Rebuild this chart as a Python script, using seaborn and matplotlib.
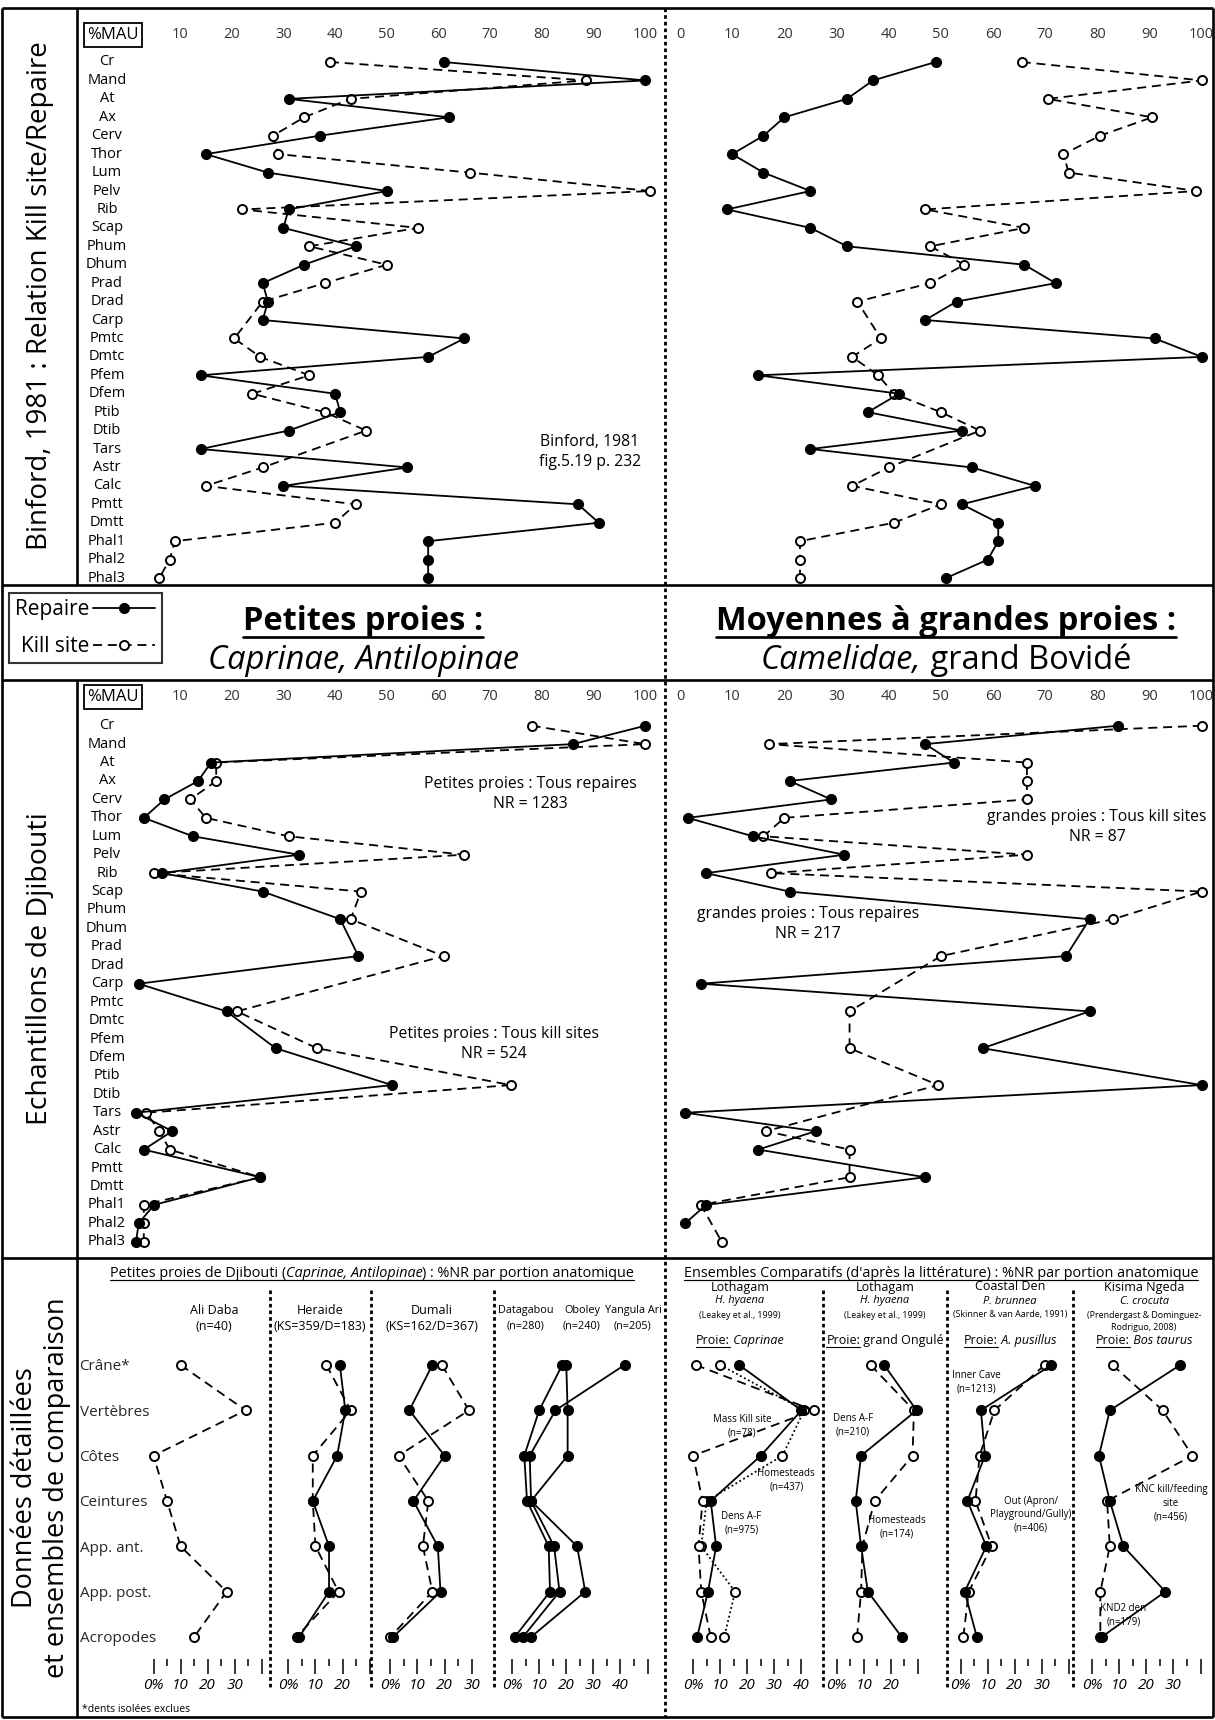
import numpy as np
import pandas as pd
import seaborn as sns
import matplotlib.pyplot as plt
from matplotlib.lines import Line2D

W, H = 1215, 1720
nan = np.nan

# --- DONNEES : Binford 1981 (%MAU) ---
elements = ["Cr", "Mand", "At", "Ax", "Cerv", "Thor", "Lum", "Pelv", "Rib", "Scap",
            "Phum", "Dhum", "Prad", "Drad", "Carp", "Pmtc", "Dmtc", "Pfem", "Dfem",
            "Ptib", "Dtib", "Tars", "Astr", "Calc", "Pmtt", "Dmtt", "Phal1", "Phal2", "Phal3"]
binford_petit_repaire = [61, 100, 31, 62, 37, 15, 27, 50, 31, 30, 44, 34, 26, 27, 26, 65, 58,
                         14, 40, 41, 31, 14, 54, 30, 87, 91, 58, 58, 58]
binford_petit_kill = [39, 88.5, 43, 34, 28, 29, 66, 101, 22, 56, 35, 50, 38, 26, nan, 20.5, 25.5,
                      35, 24, 38, 46, nan, 26, 15, 44, 40, 9, 8, 6]
binford_grand_repaire = [49, 37, 32, 20, 16, 10, 16, 25, 9, 25, 32, 66, 72, 53, 47, 91, 100,
                         15, 42, 36, 54, 25, 56, 68, 54, 61, 61, 59, 51]
binford_grand_kill = [65.5, 100, 70.5, 90.5, 80.5, 73.5, 74.5, 99, 47, 66, 48, 54.5, 48, 34, nan,
                      38.5, 33, 38, 41, 50, 57.5, nan, 40, 33, 50, 41, 23, 23, 23]

# --- DONNEES : Djibouti (%MAU), os longs regroupes entre proximal et distal ---
djib_elements = ["Cr", "Mand", "At", "Ax", "Cerv", "Thor", "Lum", "Pelv", "Rib", "Scap",
                 "Phum/Dhum", "Prad/Drad", "Carp", "Pmtc/Dmtc", "Pfem/Dfem", "Ptib/Dtib",
                 "Tars", "Astr", "Calc", "Pmtt/Dmtt", "Phal1", "Phal2", "Phal3"]
djib_petit_repaire = [100, 86, 16, 13.5, 7, 3, 12.5, 33, 6.5, 26, 41, 44.5, 2, 19, 28.5, 51,
                      1.5, 8.5, 3, 25.5, 5, 2, 1.5]
djib_petit_kill = [78, 100, 17, 17, 12, 15, 31, 65, 5, 45, 43, 61, nan, 21, 36.5, 74,
                   3.5, 6, 8, 25.5, 3, 3, 3]
djib_grand_repaire = [84, 47, 52.5, 21, 29, 1.5, 14, 31.5, 5, 21, 78.5, 74, 4, 78.5, 58, 100,
                      1, 26, 15, 47, 5, 1, nan]
djib_grand_kill = [100, 17, 66.5, 66.5, 66.5, 20, 16, 66.5, 17.5, 100, 83, 50, nan, 32.5, 32.5,
                   49.5, nan, 16.5, 32.5, 32.5, 4, nan, 8]

# --- DONNEES : %NR par portion anatomique ---
portions = ["Crâne*", "Vertèbres", "Côtes", "Ceintures", "App. ant.", "App. post.", "Acropodes"]
ali_daba = [10, 34, 0, 5, 10, 27, 15]
heraide_d = [19, 21, 18, 9, 15, 15, 4]
heraide_ks = [14, 23, 9, 9, 10, 18.5, 3]
dumali_d = [15.5, 7, 20, 8.5, 17.5, 18.5, 1]
dumali_ks = [19, 29, 3, 14, 12, 15.5, 0]
datagabou = [18.5, 10, 4.5, 5.5, 13.5, 14, 1]
oboley = [20, 20.5, 20.5, 7, 15.5, 17.5, 4]
yangula_ari = [41.5, 16, 6.5, 7, 24, 27, 7]
lothagam_dens = [17, 40, 25, 6.5, 8.5, 5.5, 1.5]
lothagam_mass = [1, 44.5, 0, 3.5, 2, 3, 6.5]
lothagam_home = [10, 41, 33, 5, 3, 15.5, 11.5]
lothagam2_dens = [17.5, 29.5, 9, 7, 9, 11.5, 24]
lothagam2_home = [12.5, 28.5, 28, 14, 9.5, 9, 7.5]
coastal_inner = [33.5, 7.5, 9, 2.5, 9.5, 1.5, 6]
coastal_out = [31, 12.5, 7, 5.5, 11.5, 3, 1]
kisima_knd2 = [32.5, 6.5, 2.5, 6.5, 11.5, 27, 3.5]
kisima_knc = [7.5, 26, 37, 5.5, 6.5, 3, 3]

# --- STYLE ---
sns.set_theme(style="white", rc={"text.color": "black", "xtick.color": "black",
                                 "axes.labelcolor": "black"})
plt.rcParams["font.family"] = ["Open Sans", "DejaVu Sans"]

STYLE = {
    "repaire": dict(color="black", linewidth=1.3, linestyle="-", marker="o", markersize=7,
                    markerfacecolor="black", markeredgecolor="black", markeredgewidth=1),
    "kill": dict(color="black", linewidth=1.3, linestyle=(0, (5, 3.2)), marker="o",
                 markersize=6.5, markerfacecolor="white", markeredgecolor="black",
                 markeredgewidth=1.4),
    "dot": dict(color="black", linewidth=1.3, linestyle=(0, (1, 1.5)), marker="o",
                markersize=6.5, markerfacecolor="white", markeredgecolor="black",
                markeredgewidth=1.4),
}

fig = plt.figure(figsize=(W / 100, H / 100), dpi=100)
bg = fig.add_axes([0, 0, 1, 1])
bg.set_xlim(0, W)
bg.set_ylim(H, 0)
bg.axis("off")


def rect(x0, y0, x1, y1):
    return [x0 / W, 1 - y1 / H, (x1 - x0) / W, (y1 - y0) / H]


def trace(ax, vals, pos, style):
    d = pd.DataFrame({"val": vals, "pos": pos}).dropna()
    sns.lineplot(data=d, x="val", y="pos", sort=False, estimator=None, ax=ax,
                 legend=False, **STYLE[style])
    ax.set_xlabel("")
    ax.set_ylabel("")


def profile(box, zero, step, row0, rowstep, tick_px, ticks, labels):
    x0, y0, x1, y1 = box
    ax = fig.add_axes(rect(*box))
    ax.patch.set_alpha(0)
    ax.axis("off")
    ax.set_xlim((x0 - zero) / step, (x1 - zero) / step)
    ax.set_ylim((y1 - row0) / rowstep, (y0 - row0) / rowstep)
    trow = (tick_px - row0) / rowstep
    for v in ticks:
        ax.text(v, trow, str(v), ha="center", va="center", size=10.5, color="#333333")
    if labels:
        lx = (107 - zero) / step
        for i, e in enumerate(elements):
            ax.text(lx, i, e, ha="center", va="center", size=10.5)
        ax.text((113 - zero) / step, trow, "%MAU", ha="center", va="center", size=12,
                bbox=dict(boxstyle="square,pad=0.22", fc="white", ec="black", lw=1.3))
    return ax


rows = list(range(len(elements)))
djib_pos = [np.mean([elements.index(p) for p in n.split("/")]) for n in djib_elements]

# Binford 1981
ax = profile((78, 8, 665, 585), 128.3, 5.17, 62, 18.43, 35, range(10, 101, 10), True)
trace(ax, binford_petit_kill, rows, "kill")
trace(ax, binford_petit_repaire, rows, "repaire")
ax = profile((665, 8, 1213, 585), 680, 5.217, 62, 18.43, 35, range(0, 101, 10), False)
trace(ax, binford_grand_kill, rows, "kill")
trace(ax, binford_grand_repaire, rows, "repaire")

# Djibouti
ax = profile((78, 680, 665, 1258), 128.3, 5.17, 725.7, 18.43, 697, range(10, 101, 10), True)
trace(ax, djib_petit_kill, djib_pos, "kill")
trace(ax, djib_petit_repaire, djib_pos, "repaire")
ax = profile((665, 680, 1213, 1258), 680, 5.217, 725.7, 18.43, 697, range(0, 101, 10), False)
trace(ax, djib_grand_kill, djib_pos, "kill")
trace(ax, djib_grand_repaire, djib_pos, "repaire")

# --- %NR par portion ---
STEP_B = 2.709
ROW0_B, ROWSTEP_B = 1365, 45.33
BOT_B = 1659


def portion_axes(x0, x1, zero, tick_max, label_max):
    ax = fig.add_axes(rect(x0, 1300, x1, BOT_B))
    ax.set_facecolor("none")
    for s in ax.spines.values():
        s.set_visible(False)
    ax.set_xlim((x0 - zero) / STEP_B, (x1 - zero) / STEP_B)
    ax.set_ylim((BOT_B - ROW0_B) / ROWSTEP_B, (1300 - ROW0_B) / ROWSTEP_B)
    major = list(range(0, tick_max + 1, 10))
    ax.set_xticks(major, ["0%" if v == 0 else (str(v) if v <= label_max else "") for v in major])
    ax.set_xticks(list(range(5, tick_max, 10)), minor=True)
    ax.tick_params(axis="x", which="major", bottom=True, direction="out", length=11,
                   width=1.1, pad=3, labelsize=11)
    ax.tick_params(axis="x", which="minor", bottom=True, direction="out", length=5, width=1.1)
    for lab in ax.get_xticklabels():
        lab.set_style("italic")
    ax.set_yticks([])
    return ax


A = dict(ha="center", va="center", size=7, linespacing=1.3)
prow = list(range(len(portions)))
ax1 = portion_axes(142, 269, 153.5, 40, 30)
trace(ax1, ali_daba, prow, "kill")
ax1.set_yticks(prow, portions)
ax1.tick_params(axis="y", left=False, pad=39, labelsize=11)
for lab in ax1.get_yticklabels():
    lab.set_ha("left")

ax = portion_axes(271, 370, 288.4, 30, 20)
trace(ax, heraide_ks, prow, "kill")
trace(ax, heraide_d, prow, "repaire")
ax = portion_axes(372, 493, 390.4, 30, 30)
trace(ax, dumali_ks, prow, "kill")
trace(ax, dumali_d, prow, "repaire")
ax = portion_axes(495, 664, 512.1, 50, 40)
for serie in (datagabou, oboley, yangula_ari):
    trace(ax, serie, prow, "repaire")

ax = portion_axes(667, 822, 693.1, 40, 40)
trace(ax, lothagam_home, prow, "dot")
trace(ax, lothagam_mass, prow, "kill")
trace(ax, lothagam_dens, prow, "repaire")
ax.text(18, 1.35, "Mass Kill site\n(n=78)", **A)
ax.text(34.4, 2.55, "Homesteads\n(n=437)", **A)
ax.text(17.8, 3.5, "Dens A-F\n(n=975)", **A)

ax = portion_axes(824, 946, 836.7, 30, 20)
trace(ax, lothagam2_home, prow, "kill")
trace(ax, lothagam2_dens, prow, "repaire")
ax.text(6, 1.32, "Dens A-F\n(n=210)", **A)
ax.text(22.3, 3.58, "Homesteads\n(n=174)", **A)

ax = portion_axes(948, 1072, 960.6, 40, 30)
trace(ax, coastal_out, prow, "kill")
trace(ax, coastal_inner, prow, "repaire")
ax.text(5.8, 0.39, "Inner Cave\n(n=1213)", **A)
ax.text(25.9, 3.3, "Out (Apron/\nPlayground/Gully)\n(n=406)", **A)

ax = portion_axes(1074, 1212, 1092.2, 40, 30)
trace(ax, kisima_knc, prow, "kill")
trace(ax, kisima_knd2, prow, "repaire")
ax.text(29.1, 3.05, "KNC kill/feeding\nsite\n(n=456)", **A)
ax.text(11.5, 5.53, "KND2 den\n(n=179)", **A)

# --- cadres ---
K = dict(color="black", lw=1.9, solid_capstyle="butt")
for y in (8, 585, 680, 1258, 1717):
    bg.plot([2, 1213], [y, y], **K)
bg.plot([2, 2], [8, 1717], **K)
bg.plot([1213, 1213], [8, 1717], **K)
bg.plot([77, 77], [8, 585], **K)
bg.plot([77, 77], [680, 1717], **K)
DOT = dict(color="black", lw=2, linestyle=(0, (1.3, 1.1)))
bg.plot([665, 665], [8, 1717], **DOT)
for x in (270, 371, 494, 823, 947, 1073):
    bg.plot([x, x], [1290, 1690], **DOT)

# --- textes ---
bg.text(40, 296, "Binford, 1981 : Relation Kill site/Repaire", rotation=90, ha="center",
        va="center", size=20)
bg.text(40, 969, "Echantillons de Djibouti", rotation=90, ha="center", va="center", size=20.5)
bg.text(41, 1488, "Données détaillées\net ensembles de comparaison", rotation=90, ha="center",
        va="center", size=19.5, multialignment="center", linespacing=1.2)

NOTE = dict(ha="center", va="center", size=11.3, linespacing=1.4)
bg.text(590, 452, "Binford, 1981\nfig.5.19 p. 232", **NOTE)
bg.text(530, 794, "Petites proies : Tous repaires\nNR = 1283", **NOTE)
bg.text(494, 1044, "Petites proies : Tous kill sites\nNR = 524", **NOTE)
bg.text(1097, 827, "grandes proies : Tous kill sites\nNR = 87", **NOTE)
bg.text(808, 924, "grandes proies : Tous repaires\nNR = 217", **NOTE)

renderer = fig.canvas.get_renderer()


def rich(x, y, parts, size):
    arts = []
    for s, kw, ul in parts:
        arts.append(bg.text(0, y, s, size=size, va="baseline", ha="left", **kw))
    ws = [a.get_window_extent(renderer).width for a in arts]
    start = x - sum(ws) / 2
    for a, w, (s, kw, ul) in zip(arts, ws, parts):
        a.set_x(start)
        if ul:
            bg.plot([start, start + w], [y + size * 0.28, y + size * 0.28], color="black",
                    lw=max(0.8, size / 12))
        start += w


N, I, B = {}, {"style": "italic"}, {"weight": "bold"}
rich(363, 630, [("Petites proies :", B, True)], 23.5)
rich(363, 669, [("Caprinae, Antilopinae", I, False)], 23.5)
rich(946, 630, [("Moyennes à grandes proies :", B, True)], 23.5)
rich(946, 669, [("Camelidae,", I, False), (" grand Bovidé", N, False)], 23.5)

leg = fig.legend(
    handles=[Line2D([], [], **STYLE["repaire"]), Line2D([], [], **STYLE["kill"])],
    labels=["Repaire", "Kill site"], loc="upper left",
    bbox_to_anchor=(9 / W, 1 - 593 / H), frameon=True, fancybox=False, edgecolor="black",
    markerfirst=False, handlelength=3.0, fontsize=15, borderpad=0.3, labelspacing=0.75,
    handletextpad=0.15, borderaxespad=0, numpoints=1)
leg.get_frame().set_linewidth(1.5)

rich(372, 1277, [("Petites proies de Djibouti (", N, True), ("Caprinae, Antilopinae", I, True),
                 (") : %NR par portion anatomique", N, True)], 10.4)
rich(941, 1277, [("Ensembles Comparatifs (d'après la littérature) : %NR par portion anatomique",
                  N, True)], 10.4)

T = dict(ha="center", va="center", size=9)
for x, name, n in ((214, "Ali Daba", "(n=40)"), (320, "Heraide", "(KS=359/D=183)"),
                   (432, "Dumali", "(KS=162/D=367)")):
    bg.text(x, 1311, name, **T)
    bg.text(x, 1326, n, **T)
T2 = dict(ha="center", va="center", size=7.8)
for x, name, n in ((526, "Datagabou", "(n=280)"), (582, "Oboley", "(n=240)"),
                   (633, "Yangula Ari", "(n=205)")):
    bg.text(x, 1311, name, **T2)
    bg.text(x, 1326, n, **T2)

S = dict(ha="center", va="center", size=6.4)
for x, lines, proie in (
        (740, ["Lothagam", "H. hyaena", "(Leakey et al., 1999)"], [("Caprinae", I)]),
        (885, ["Lothagam", "H. hyaena", "(Leakey et al., 1999)"], [("grand Ongulé", N)]),
        (1010, ["Coastal Den", "P. brunnea", "(Skinner & van Aarde, 1991)"], [("A. pusillus", I)]),
        (1144, ["Kisima Ngeda", "C. crocuta", "(Prendergast & Dominguez-", "Rodriguo, 2008)"],
         [("Bos taurus", I)])):
    ys = [1287, 1301, 1315, 1327]
    for k, l in enumerate(lines):
        kw = dict(S)
        if k == 0:
            kw["size"] = 9
        if k == 1:
            kw["style"] = "italic"
            kw["size"] = 8
        bg.text(x, ys[k], l, **kw)
    rich(x, 1344, [("Proie:", N, True)] + [(" " + p, kw, False) for p, kw in proie], 9)

bg.text(82, 1709, "*dents isolées exclues", ha="left", va="center", size=7.5)

fig.savefig("out.png", dpi=100)
